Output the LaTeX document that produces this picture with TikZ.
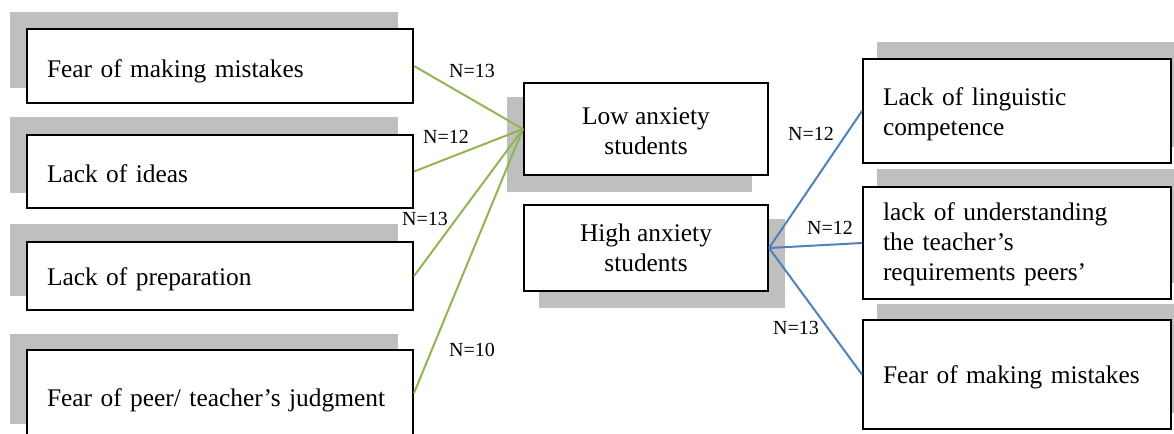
\documentclass[tikz,border=0pt]{standalone}
\usepackage{fontspec}
\setmainfont{Liberation Serif}
\definecolor{shadowgray}{HTML}{BFBFBF}
\definecolor{lgreen}{HTML}{92B552}
\definecolor{lblue}{HTML}{4F81BD}
\begin{document}
\begin{tikzpicture}[x=0.5pt,y=-0.5pt,
 shadow/.style={fill=shadowgray, draw=none},
 box/.style={draw=black, line width=1pt, fill=white, inner sep=0pt},
 lbox/.style={box, minimum width=193pt},
 mbox/.style={box, minimum width=122pt},
 rbox/.style={box, minimum width=154pt},
 txt/.style={inner sep=0pt, font=\fontsize{12.7}{15}\selectfont},
 ltxt/.style={txt, text width=173pt, align=left},
 mtxt/.style={txt, align=center},
 rtxt/.style={txt, text width=134pt, align=left},
 gline/.style={draw=lgreen, line width=1pt},
 bline/.style={draw=lblue, line width=1pt},
 nlab/.style={font=\fontsize{10}{12}\selectfont, inner sep=0pt}]
\useasboundingbox (0,0) rectangle (1174,434);
% shadows
\fill[shadow] (10,12) rectangle (398,88);
\fill[shadow] (10,117) rectangle (398,193);
\fill[shadow] (10,224) rectangle (398,296);
\fill[shadow] (10,334) rectangle (398,424);
\fill[shadow] (507,97) rectangle (752,192);
\fill[shadow] (539,219) rectangle (785,308);
\fill[shadow] (877,42) rectangle (1180,147);
\fill[shadow] (877,169) rectangle (1180,283);
\fill[shadow] (877,304) rectangle (1180,413);
% boxes
\node[lbox, minimum height=37pt] (l1) at (220,66) {};
\node[lbox, minimum height=36.5pt] (l2) at (220,171.5) {};
\node[lbox, minimum height=34pt] (l3) at (220,276) {};
\node[lbox, minimum height=43pt] (l4) at (220,393) {};
\node[mbox, minimum height=46pt] (low) at (646,129) {};
\node[mbox, minimum height=43pt] (high) at (646,248) {};
\node[rbox, minimum height=52pt] (r1) at (1017,111) {};
\node[rbox, minimum height=56pt] (r2) at (1017,243) {};
\node[rbox, minimum height=54.5pt] (r3) at (1017,374.5) {};
% texts
\node[ltxt] (tl1) at ([yshift=-2.5pt]l1.center) {Fear of making mistakes};
\node[ltxt] (tl2) at ([yshift=-1pt]l2.center) {Lack of ideas};
\node[ltxt] (tl3) at ([yshift=-1.5pt]l3.center) {Lack of preparation};
\node[ltxt] (tl4) at ([yshift=-3.5pt]l4.center) {Fear of peer/ teacher’s judgment};
\node[mtxt] (tlow) at ([yshift=-1pt]low.center) {Low anxiety\\students};
\node[mtxt] (thigh) at (high.center) {High anxiety\\students};
\node[rtxt] (tr1) at ([yshift=-1.5pt]r1.center) {Lack of linguistic\\competence};
\node[rtxt] (tr2) at ([yshift=-0.5pt]r2.center) {lack of understanding\\the teacher’s\\requirements peers’};
\node[rtxt] (tr3) at ([yshift=-1.5pt]r3.center) {Fear of making mistakes};
% connectors
\draw[gline] (l1.east) -- (low.west);
\draw[gline] (l2.east) -- (low.west);
\draw[gline] (l3.east) -- (low.west);
\draw[gline] (l4.east) -- (low.west);
\draw[bline] (high.east) -- (r1.west);
\draw[bline] (high.east) -- (r2.west);
\draw[bline] (high.east) -- (r3.west);
% labels
\node[nlab] (n1) at (472,71) {N=13};
\node[nlab] (n2) at (446,137) {N=12};
\node[nlab] (n3) at (425,219) {N=13};
\node[nlab] (n4) at (472,350) {N=10};
\node[nlab] (n5) at (811,134) {N=12};
\node[nlab] (n6) at (830,228) {N=12};
\node[nlab] (n7) at (796,328) {N=13};
\end{tikzpicture}
\end{document}
